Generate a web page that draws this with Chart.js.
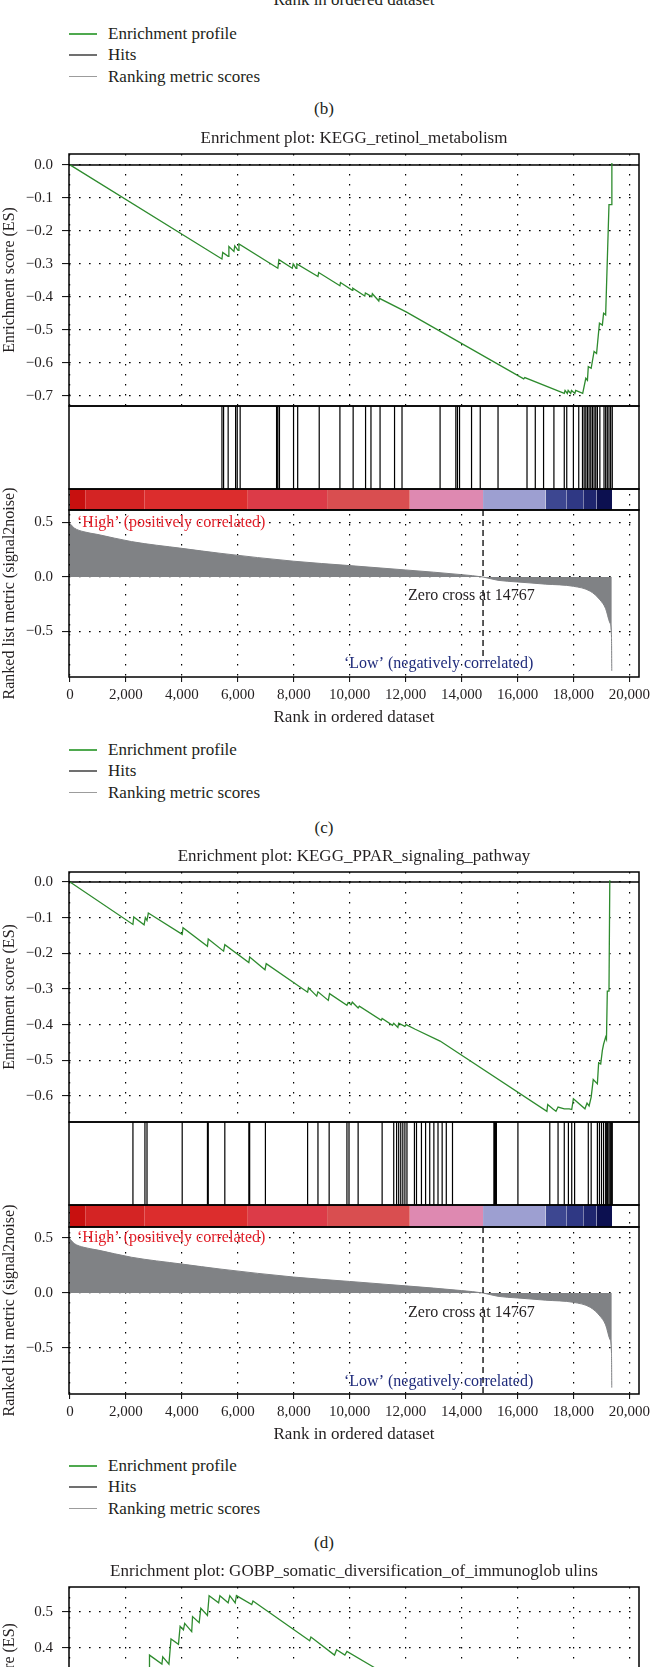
<!DOCTYPE html>
<html>
<head>
<meta charset="utf-8">
<title>GSEA enrichment plots</title>
<script src="https://cdn.jsdelivr.net/npm/chart.js@4.4.1/dist/chart.umd.min.js"></script>
<style>
  html, body { margin: 0; padding: 0; background: #fff; }
  body { font-family: "Liberation Serif", "DejaVu Serif", serif; color: #231f20; }
  #page { position: relative; width: 650px; height: 1667px; overflow: hidden; }
  .fig { position: absolute; left: 0; }
  .fig canvas { display: block; }
  .axis-tail { position: absolute; left: 69px; width: 570px; text-align: center; font-size: 17px; line-height: 20px; }
  .legend { position: absolute; left: 69px; }
  .legend div { height: 21.5px; display: flex; align-items: center; font-size: 17px; white-space: nowrap; }
  .legend .swatch { display: inline-block; width: 28px; margin-right: 11px; }
  .caption { position: absolute; left: 0; width: 648px; text-align: center; font-size: 17px; line-height: 20px; }
</style>
</head>
<body>
<div id="page">
  <div class="axis-tail" style="top:-10px">Rank in ordered dataset</div>
  <div class="legend" style="top:23px"></div>
  <div class="caption" style="top:99px">(b)</div>

  <div class="fig" style="top:125px"><canvas id="fig-c" width="650" height="604"></canvas></div>
  <div class="legend" style="top:739px"></div>
  <div class="caption" style="top:818px">(c)</div>

  <div class="fig" style="top:843px"><canvas id="fig-d" width="650" height="603"></canvas></div>
  <div class="legend" style="top:1455px"></div>
  <div class="caption" style="top:1533px">(d)</div>

  <div class="fig" style="top:1558px"><canvas id="fig-e" width="650" height="299"></canvas></div>
</div>
<script>
// shared x axis
const xTicks = [0, 2000, 4000, 6000, 8000, 10000, 12000, 14000, 16000, 18000, 20000];
const metricTicks = [0.5, 0, -0.5];
const zeroCross = 14767;

// ranked list metric (signal2noise)
const metricRanks = [0, 150, 500, 1000, 2200, 4000, 5400, 8000, 10000, 12000, 14000, 14767, 15300, 16000, 17000, 18000, 18600, 18950, 19150, 19300, 19360, 19370];
const metricValues = [0.49, 0.45, 0.415, 0.39, 0.325, 0.263, 0.217, 0.145, 0.105, 0.065, 0.022, 0, -0.03, -0.045, -0.065, -0.085, -0.13, -0.21, -0.29, -0.42, -0.55, -0.86];

// heat bar under the hits: rank edges of each block
const heatEdges = [0, 540, 2650, 6360, 9190, 12150, 14767, 17000, 17760, 18350, 18830, 19380];
const heatColors = ["#c8100f", "#d42424", "#dc2d2d", "#dc3b48", "#d94e50", "#de89b1", "#9d9fd1", "#3d4791", "#2f3884", "#1f266f", "#0c1050"];

// (c) KEGG_retinol_metabolism
const esTicksC = [0, -0.1, -0.2, -0.3, -0.4, -0.5, -0.6, -0.7];
const esRanksC = [0, 5432, 5460, 5654, 5680, 5861, 5890, 6009, 6040, 7430, 7470, 7948, 7980, 8081, 8110, 8865, 8890, 9650, 9670, 10094, 10110, 10538, 10560, 10789, 10810, 11041, 11060, 12018, 16221, 16260, 17671, 17700, 17780, 17810, 17900, 17930, 18050, 18080, 18330, 18441, 18500, 18530, 18633, 18737, 18826, 18929, 19033, 19077, 19151, 19270, 19344, 19373];
const esValuesC = [0, -0.285, -0.265, -0.277, -0.247, -0.262, -0.245, -0.259, -0.239, -0.313, -0.287, -0.313, -0.3, -0.313, -0.3, -0.338, -0.326, -0.366, -0.356, -0.38, -0.373, -0.397, -0.388, -0.399, -0.39, -0.412, -0.404, -0.445, -0.648, -0.644, -0.692, -0.683, -0.692, -0.683, -0.692, -0.683, -0.692, -0.683, -0.692, -0.646, -0.652, -0.611, -0.616, -0.565, -0.571, -0.479, -0.485, -0.449, -0.454, -0.12, -0.12, 0.006];
const hitsC = [5432, 5491, 5654, 5920, 5979, 6083, 7385, 7430, 7489, 7992, 8140, 8910, 9650, 10123, 10567, 10760, 11085, 11603, 11870, 13231, 13794, 13853, 13927, 14356, 14667, 15303, 16339, 16635, 16931, 17301, 17671, 17760, 17997, 18189, 18322, 18382, 18441, 18500, 18559, 18618, 18678, 18737, 18796, 18855, 18944, 19092, 19151, 19210, 19270, 19329, 19388];

// (d) KEGG_PPAR_signaling_pathway
const esTicksD = [0, -0.1, -0.2, -0.3, -0.4, -0.5, -0.6];
const esRanksD = [0, 2250, 2279, 2649, 2694, 2753, 2800, 4011, 4040, 4914, 4943, 5491, 5535, 6394, 6423, 6971, 7015, 8495, 8525, 8821, 8865, 9235, 9280, 9901, 9946, 10049, 10094, 10301, 10345, 11130, 11159, 11529, 11574, 11722, 11751, 11973, 12018, 12343, 13231, 17050, 17079, 17257, 17375, 17449, 17671, 17849, 17938, 17997, 18411, 18485, 18559, 18633, 18707, 18855, 18900, 18974, 19033, 19077, 19151, 19180, 19210, 19270, 19299];
const esValuesD = [0, -0.119, -0.098, -0.12, -0.1, -0.108, -0.087, -0.147, -0.128, -0.18, -0.16, -0.194, -0.176, -0.226, -0.21, -0.246, -0.229, -0.309, -0.297, -0.32, -0.308, -0.332, -0.313, -0.346, -0.338, -0.344, -0.337, -0.353, -0.348, -0.388, -0.383, -0.402, -0.396, -0.408, -0.396, -0.405, -0.4, -0.413, -0.446, -0.643, -0.624, -0.636, -0.643, -0.631, -0.636, -0.636, -0.638, -0.608, -0.636, -0.62, -0.628, -0.603, -0.554, -0.566, -0.507, -0.51, -0.472, -0.455, -0.435, -0.441, -0.306, -0.306, 0.005];
const hitsD = [2250, 2679, 2753, 4011, 4914, 4943, 5535, 6394, 6423, 6986, 8495, 8865, 9265, 9901, 9975, 10301, 11159, 11574, 11677, 11751, 11825, 11899, 11973, 12047, 12314, 12388, 12565, 12713, 12861, 13009, 13157, 13305, 13453, 13675, 15155, 15185, 15214, 15244, 16014, 17153, 17449, 17671, 17819, 17938, 18041, 18530, 18633, 18855, 18929, 19003, 19077, 19151, 19196, 19240, 19299, 19344, 19388];

// (e) GOBP_somatic_diversification_of_immunoglobulins, only its top is in view
const esTicksE = [0.5, 0.4, 0.3, 0.2, 0.1, 0];
const esRanksE = [0, 2830, 2842, 3286, 3315, 3537, 3611, 3878, 3937, 4055, 4100, 4351, 4381, 4618, 4677, 4914, 4973, 5313, 5358, 5654, 5713, 5905, 5950, 6497, 6542, 8569, 8614, 9457, 9531, 9827, 9901, 11000];
const esValuesE = [0, 0.335, 0.38, 0.355, 0.375, 0.355, 0.425, 0.41, 0.46, 0.45, 0.468, 0.445, 0.487, 0.47, 0.51, 0.49, 0.545, 0.525, 0.545, 0.525, 0.545, 0.525, 0.545, 0.52, 0.53, 0.42, 0.43, 0.38, 0.395, 0.38, 0.39, 0.34];

const legendItems = ["Enrichment profile", "Hits", "Ranking metric scores"];
const legendStyles = ["2px solid #4fa94f", "2px solid #707070", "1.5px solid #9c9c9c"];

const serif = '"Liberation Serif","DejaVu Serif",serif';
const ink = "#231f20";
const dots = [1.6, 8.4];

Chart.defaults.font.family = serif;
Chart.defaults.color = ink;

for (const box of document.querySelectorAll(".legend")) {
  legendItems.forEach((text, i) => {
    const row = document.createElement("div");
    const swatch = document.createElement("span");
    swatch.className = "swatch";
    swatch.style.borderTop = legendStyles[i];
    row.appendChild(swatch);
    row.appendChild(document.createTextNode(text));
    box.appendChild(row);
  });
}

const pairs = (xs, ys) => xs.map((x, i) => ({ x, y: ys[i] }));
const signedLabel = (v) => (v < 0 ? "\u2212" : "") + Math.abs(v).toFixed(1);
const fixedWidth = (scale) => {
  scale.width = 69;
  scale.paddingTop = 0;
  scale.paddingBottom = 0;
};

const gseaPanels = {
  id: "gseaPanels",
  beforeDatasetsDraw(chart) {
    const { ctx, chartArea, scales } = chart;
    const { left, right } = chartArea;
    ctx.save();
    if (scales.hits) {
      ctx.fillStyle = "#fff";
      ctx.fillRect(left, scales.hits.top, right - left, scales.hits.bottom - scales.hits.top);
    }
    const y0 = scales.es.getPixelForValue(0);
    if (y0 > scales.es.top && y0 < scales.es.bottom) {
      ctx.strokeStyle = "#000";
      ctx.lineWidth = 1.5;
      ctx.beginPath();
      ctx.moveTo(left, y0);
      ctx.lineTo(right, y0);
      ctx.stroke();
    }
    ctx.restore();
  },
  afterDatasetsDraw(chart, args, opts) {
    const { ctx, chartArea, scales } = chart;
    const { left, right } = chartArea;
    ctx.save();
    ctx.font = "16px " + serif;
    ctx.textAlign = "left";
    ctx.textBaseline = "middle";
    for (const note of opts.notes || []) {
      ctx.fillStyle = note.color;
      ctx.fillText(note.text, scales.x.getPixelForValue(note.rank), scales.metric.getPixelForValue(note.value));
    }
    ctx.strokeStyle = "#000";
    ctx.lineWidth = 1.5;
    for (const id of ["es", "hits", "heat", "metric"]) {
      const s = scales[id];
      if (!s) continue;
      ctx.strokeRect(left, s.top, right - left, s.bottom - s.top);
    }
    ctx.restore();
  }
};

const buildFigure = (canvasId, fig) => {
  const datasets = [
    {
      label: "Enrichment profile",
      yAxisID: "es",
      data: pairs(fig.esRanks, fig.esValues),
      borderColor: "#2e8b2e",
      borderWidth: 1.3,
      pointRadius: 0,
      tension: 0,
      fill: false
    }
  ];

  const scales = {
    x: {
      type: "linear",
      position: "bottom",
      min: -36,
      max: 20343,
      afterBuildTicks: (s) => { s.ticks = xTicks.map((value) => ({ value })); },
      afterFit: (s) => { s.height = 52; s.paddingLeft = 0; s.paddingRight = 0; },
      ticks: {
        autoSkip: false,
        maxRotation: 0,
        padding: 4,
        color: ink,
        font: { size: 15 },
        callback: (v) => Number(v).toLocaleString("en-US")
      },
      grid: { color: "#000", lineWidth: 1.2, tickLength: 5, tickColor: "#000", tickWidth: 1 },
      border: { display: false, dash: dots },
      title: { display: true, text: "Rank in ordered dataset", color: ink, font: { size: 17 }, padding: { top: 0, bottom: 0.8 } }
    },
    es: {
      type: "linear",
      position: "left",
      stack: "gsea",
      stackWeight: fig.esHeight,
      weight: 4,
      min: fig.esMin,
      max: fig.esMax,
      afterBuildTicks: (s) => { s.ticks = fig.esTicks.map((value) => ({ value })); },
      afterFit: fixedWidth,
      ticks: { autoSkip: false, padding: 9, color: ink, font: { size: 15 }, callback: signedLabel },
      grid: { color: "#000", lineWidth: 1.2, tickLength: 7, tickColor: "#000", tickWidth: 1 },
      border: { display: false, dash: dots },
      title: { display: true, text: "Enrichment score (ES)", color: ink, font: { size: 16 }, padding: { top: 0.5, bottom: 0 } }
    }
  };

  if (fig.hits) {
    datasets.push({
      label: "Hits",
      yAxisID: "hits",
      data: fig.hits.flatMap((r) => [{ x: r, y: 0 }, { x: r, y: 1 }, { x: r, y: null }]),
      borderColor: "#000",
      borderWidth: 1.2,
      pointRadius: 0,
      spanGaps: false,
      fill: false
    });
    datasets.push({
      label: "Zero cross",
      yAxisID: "metric",
      data: [{ x: zeroCross, y: fig.metricMax }, { x: zeroCross, y: fig.dashEnd }],
      borderColor: "#000",
      borderWidth: 1.3,
      borderDash: [6, 4],
      pointRadius: 0,
      fill: false
    });
    datasets.push({
      label: "Ranking metric scores",
      yAxisID: "metric",
      data: pairs(metricRanks, metricValues),
      borderColor: "#808285",
      backgroundColor: "#808285",
      borderWidth: 1,
      pointRadius: 0,
      cubicInterpolationMode: "monotone",
      fill: "origin"
    });
    for (let i = 0; i < heatEdges.length - 1; i += 1) {
      datasets.push({
        label: "heat " + i,
        yAxisID: "heat",
        data: [{ x: heatEdges[i], y: 1 }, { x: heatEdges[i + 1], y: 1 }],
        borderColor: heatColors[i],
        backgroundColor: heatColors[i],
        borderWidth: 0,
        pointRadius: 0,
        fill: { value: 0 }
      });
    }

    const bare = (weight, stackWeight) => ({
      type: "linear",
      position: "left",
      stack: "gsea",
      stackWeight,
      weight,
      min: 0,
      max: 1,
      afterFit: fixedWidth,
      ticks: { display: false },
      grid: { display: false },
      border: { display: false }
    });
    scales.hits = bare(3, fig.hitsHeight);
    scales.heat = bare(2, fig.heatHeight);
    scales.metric = {
      type: "linear",
      position: "left",
      stack: "gsea",
      stackWeight: fig.metricHeight,
      weight: 1,
      min: fig.metricMin,
      max: fig.metricMax,
      afterBuildTicks: (s) => { s.ticks = metricTicks.map((value) => ({ value })); },
      afterFit: fixedWidth,
      ticks: { autoSkip: false, padding: 9, color: ink, font: { size: 15 }, callback: signedLabel },
      grid: { color: "#000", lineWidth: 1.2, tickLength: 7, tickColor: "#000", tickWidth: 1 },
      border: { display: false, dash: dots },
      title: { display: true, text: "Ranked list metric (signal2noise)", color: ink, font: { size: 16 }, padding: { top: 0.5, bottom: 0 } }
    };
  }

  new Chart(document.getElementById(canvasId), {
    type: "line",
    data: { datasets },
    options: {
      responsive: false,
      animation: false,
      events: [],
      layout: { padding: { left: 0, right: 11, top: 0, bottom: 0 } },
      plugins: {
        legend: { display: false },
        tooltip: { enabled: false },
        title: {
          display: true,
          text: fig.title,
          fullSize: false,
          color: ink,
          font: { size: 17, weight: "normal" },
          padding: { top: 3.5, bottom: 5.1 }
        },
        gseaPanels: { notes: fig.notes || [] }
      },
      scales
    },
    plugins: [gseaPanels]
  });
};

const notesFor = (lowValue, crossValue) => [
  { text: "\u2018High\u2019 (positively correlated)", rank: 250, value: 0.5, color: "#e3202a" },
  { text: "Zero cross at " + zeroCross, rank: 12085, value: crossValue, color: ink },
  { text: "\u2018Low\u2019 (negatively correlated)", rank: 9796, value: lowValue, color: "#1f2b7b" }
];

buildFigure("fig-c", {
  title: "Enrichment plot: KEGG_retinol_metabolism",
  esRanks: esRanksC, esValues: esValuesC, esTicks: esTicksC,
  esMin: -0.73, esMax: 0.033,
  hits: hitsC,
  esHeight: 252, hitsHeight: 83, heatHeight: 21, metricHeight: 167,
  metricMin: -0.917, metricMax: 0.615, dashEnd: -0.73,
  notes: notesFor(-0.8, -0.175)
});

buildFigure("fig-d", {
  title: "Enrichment plot: KEGG_PPAR_signaling_pathway",
  esRanks: esRanksD, esValues: esValuesD, esTicks: esTicksD,
  esMin: -0.673, esMax: 0.028,
  hits: hitsD,
  esHeight: 250, hitsHeight: 83, heatHeight: 22, metricHeight: 167,
  metricMin: -0.918, metricMax: 0.6, dashEnd: -0.918,
  notes: notesFor(-0.81, -0.18)
});

buildFigure("fig-e", {
  title: "Enrichment plot: GOBP_somatic_diversification_of_immunoglob ulins",
  esRanks: esRanksE, esValues: esValuesE, esTicks: esTicksE,
  esMin: -0.036, esMax: 0.569,
  esHeight: 218
});
</script>
</body>
</html>
